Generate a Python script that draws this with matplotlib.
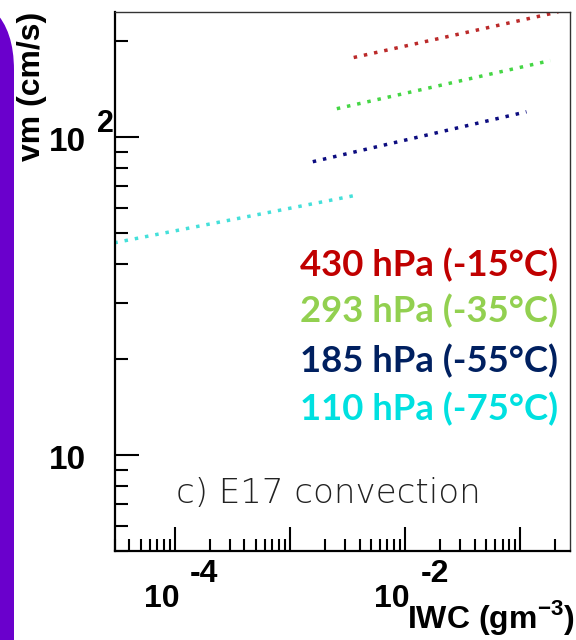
#!/usr/bin/env python3
"""Mean fall speed vs ice water content, E17 convection."""

import matplotlib

matplotlib.use("Agg")
import matplotlib.pyplot as plt
import matplotlib.transforms as mtransforms
from matplotlib.patches import FancyBboxPatch
from matplotlib.ticker import LogLocator, NullFormatter

plt.rcParams["mathtext.fontset"] = "custom"
plt.rcParams["mathtext.rm"] = "Liberation Sans:bold"
plt.rcParams["mathtext.bf"] = "Liberation Sans:bold"

# fitted vm-IWC relations, one per pressure level (end points of each fit)
levels = ["430 hPa (-15°C)", "293 hPa (-35°C)", "185 hPa (-55°C)", "110 hPa (-75°C)"]
iwc_430 = [3.56e-3, 0.213]
vm_430 = [177.7, 247.0]
iwc_293 = [2.54e-3, 0.182]
vm_293 = [122.7, 173.8]
iwc_185 = [1.57e-3, 0.113]
vm_185 = [83.6, 120.0]
iwc_110 = [2.96e-5, 3.5e-3]
vm_110 = [46.5, 65.3]

line_colors = ["#bb2a2a", "#45d645", "#0c0c80", "#45e0da"]
text_colors = ["#c00000", "#92d050", "#002060", "#00e0e0"]

x_label_exps = [-4, -2]
y_labels = {10: "10", 100: "10"}
y_label_exps = {10: "", 100: "2"}

DPI = 100


def plot(ax):
    series = [(iwc_430, vm_430), (iwc_293, vm_293), (iwc_185, vm_185), (iwc_110, vm_110)]
    for (x, y), c in zip(series, line_colors):
        ax.plot(x, y, color=c, lw=2.5, linestyle=(0, (1, 2.0)))

    ax.set_xscale("log")
    ax.set_yscale("log")
    ax.set_xlim(3e-5, 0.27)
    ax.set_ylim(5, 247)

    for axis in (ax.xaxis, ax.yaxis):
        axis.set_major_locator(LogLocator(base=10, numticks=20))
        axis.set_minor_locator(LogLocator(base=10, subs=range(2, 10), numticks=20))
        axis.set_major_formatter(NullFormatter())
        axis.set_minor_formatter(NullFormatter())

    ax.tick_params(which="both", direction="in", top=False, right=False, width=1.5, color="black")
    ax.tick_params(which="major", length=17.5)
    ax.tick_params(which="minor", length=9)
    for side in ("left", "bottom"):
        ax.spines[side].set_linewidth(1.6)
    for side in ("top", "right"):
        ax.spines[side].set_linewidth(1.0)
        ax.spines[side].set_color("#333333")

    # ROOT-style decade labels
    num = dict(family="Liberation Sans", weight="bold", color="black")
    for e in x_label_exps:
        ax.annotate("10", xy=(10.0 ** e, 0), xycoords=("data", "axes fraction"),
                    xytext=(4, -56), textcoords="offset pixels",
                    ha="right", va="baseline", fontsize=23, **num)
        ax.annotate(f"{e}", xy=(10.0 ** e, 0), xycoords=("data", "axes fraction"),
                    xytext=(15, -31), textcoords="offset pixels",
                    ha="left", va="baseline", fontsize=23, **num)
    for v, base in y_labels.items():
        ax.annotate(base, xy=(0, v), xycoords=("axes fraction", "data"),
                    xytext=(-29, -14), textcoords="offset pixels",
                    ha="right", va="baseline", fontsize=24, **num)
        if y_label_exps[v]:
            ax.annotate(y_label_exps[v], xy=(0, v), xycoords=("axes fraction", "data"),
                        xytext=(-18, 5), textcoords="offset pixels",
                        ha="left", va="baseline", fontsize=22, **num)


def main():
    fig = plt.figure(figsize=(5.76, 6.4), dpi=DPI)
    fig.patch.set_facecolor("white")
    ax = fig.add_axes([115 / 576, 89 / 640, 455 / 576, 539 / 640])
    plot(ax)

    # panel title inside the frame
    fig.text(176 / 576, 1 - 503 / 640, "c) E17 convection", family="DejaVu Sans",
             weight="light", fontsize=24.5, color="#222222", ha="left", va="baseline")

    # pressure level key, right aligned
    baselines = [276, 322, 372, 420]
    for label, c, yb in zip(levels, text_colors, baselines):
        fig.text(558 / 576, 1 - yb / 640, label, family="Lato", weight="bold",
                 fontsize=26.3, color=c, ha="right", va="baseline")

    lab = dict(family="Liberation Sans", weight="bold", color="black")
    fig.text(32 / 576, 1 - 12 / 640, "vm (cm/s)", rotation=90, ha="center", va="top",
             fontsize=23, **lab)
    fig.text(575 / 576, 1 - 628 / 640, r"IWC (gm$^{-3}$)", ha="right", va="baseline",
             fontsize=23, **lab)

    # slide accent bar on the left edge
    bar = FancyBboxPatch((-200, -200), 214, 849, boxstyle="round,pad=0,rounding_size=79",
                         facecolor="#6a00cc", edgecolor="none",
                         transform=mtransforms.IdentityTransform())
    fig.add_artist(bar)

    fig.savefig("out.png", dpi=DPI, facecolor="white")


if __name__ == "__main__":
    main()
